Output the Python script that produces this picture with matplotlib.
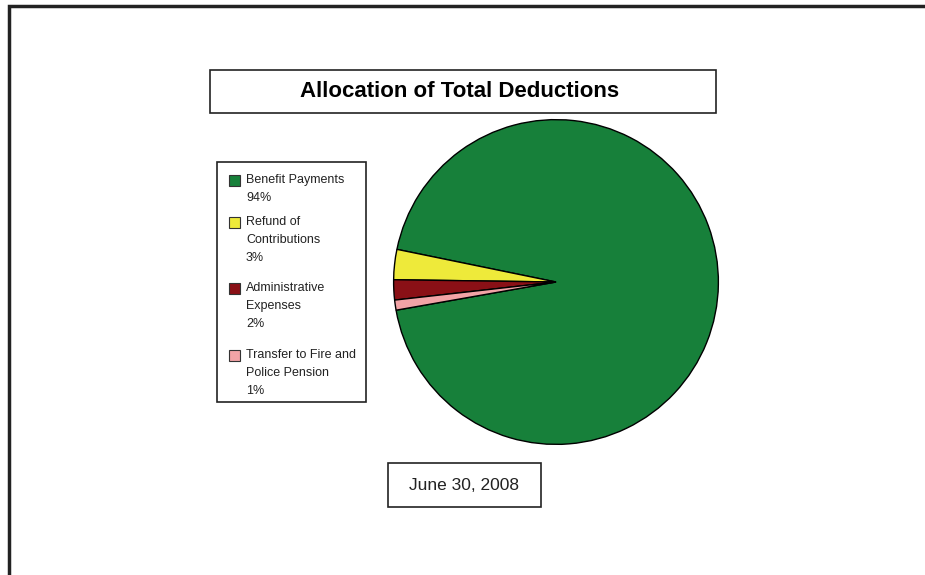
import matplotlib.pyplot as plt
from matplotlib.patches import Rectangle

# data
labels = ["Benefit Payments", "Refund of\nContributions", "Administrative\nExpenses",
          "Transfer to Fire and\nPolice Pension"]
shares = [94, 3, 2, 1]
colors = ["#17803a", "#eeea3a", "#8a1016", "#f2a3a6"]
title = "Allocation of Total Deductions"
date_label = "June 30, 2008"

W, H = 925, 575
font = "Liberation Sans"

fig = plt.figure(figsize=(W / 100, H / 100), dpi=100)
fig.patch.set_facecolor("white")


def px(x, y):
    # pixel coords (top-left origin) -> figure fraction
    return x / W, 1 - y / H


def box(x0, y0, x1, y1, lw=1.2):
    fx, fy = px(x0, y1)
    fig.patches.append(Rectangle((fx, fy), (x1 - x0) / W, (y1 - y0) / H,
                                 transform=fig.transFigure, fill=False,
                                 edgecolor="#222222", linewidth=lw))


# outer frame (only left and top visible)
box(9, 6, 960, 620, lw=2.5)

# pie
cx, cy, r = 556, 282, 164
ax = fig.add_axes([(cx - r) / W, (H - cy - r) / H, 2 * r / W, 2 * r / H])
ax.pie(shares, colors=colors, startangle=190, counterclock=True,
       wedgeprops=dict(edgecolor="black", linewidth=1.0))
ax.set_xlim(-1.01, 1.01)
ax.set_ylim(-1.01, 1.01)
ax.set_axis_off()

# title box
box(210, 70, 716, 113)
fig.text(*px(460, 91), title, ha="center", va="center", fontsize=16,
         fontweight="bold", family=font)

# legend box
box(217, 162, 366, 402)
starts = [180, 222, 288, 355]
for lab, val, c, y in zip(labels, shares, colors, starts):
    fx, fy = px(229, y + 6)
    fig.patches.append(Rectangle((fx, fy), 11 / W, 11 / H, transform=fig.transFigure,
                                 facecolor=c, edgecolor="#333333", linewidth=0.8))
    lines = lab.split("\n") + ["%d%%" % val]
    for ln in lines:
        fig.text(*px(246, y), ln, ha="left", va="center", fontsize=9, family=font,
                 color="#222222")
        y += 18

# date box
box(388, 463, 541, 507)
fig.text(*px(464, 485), date_label, ha="center", va="center", fontsize=12.5,
         family=font, color="#222222")

fig.savefig("out.png", dpi=100, facecolor="white")
